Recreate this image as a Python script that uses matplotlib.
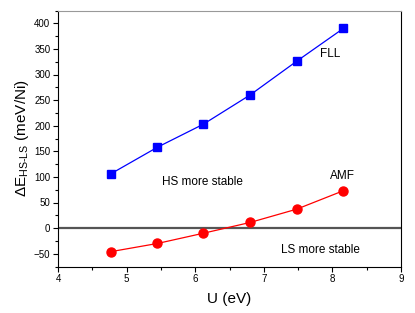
import matplotlib
matplotlib.use("Agg")
import matplotlib.pyplot as plt
from matplotlib.ticker import MultipleLocator

# ─── Data ─────────────────────────────────────────────────────────────────────
U_EV    = [4.77, 5.45, 6.12, 6.80, 7.48, 8.16]
FLL     = [106, 158, 203, 260, 326, 390]
AMF     = [-46, -30, -10, 11, 37, 73]

plt.rcParams["font.family"] = ["Liberation Sans", "DejaVu Sans"]
plt.rcParams["mathtext.fontset"] = "custom"
plt.rcParams["mathtext.rm"] = "Liberation Sans"

fig = plt.figure(figsize=(4.15, 3.13), dpi=100)
ax = fig.add_axes([58 / 415, 1 - 266.5 / 313, (401 - 58) / 415, (266.5 - 10.5) / 313])

ax.axhline(0, color="#555555", linewidth=1.6, zorder=1)
ax.plot(U_EV, FLL, color="blue", marker="s", markersize=5.5, linewidth=0.9, zorder=3)
ax.plot(U_EV, AMF, color="red", marker="o", markersize=6.5, linewidth=0.9, zorder=3)

ax.set_xlim(4, 9)
ax.set_ylim(-75, 425)
ax.xaxis.set_major_locator(MultipleLocator(1))
ax.xaxis.set_minor_locator(MultipleLocator(0.5))
ax.yaxis.set_major_locator(MultipleLocator(50))
ax.yaxis.set_minor_locator(MultipleLocator(25))
ax.tick_params(which="major", direction="out", length=3.5, width=0.8, labelsize=7, pad=2)
ax.tick_params(which="minor", direction="out", length=2, width=0.8)
ax.spines["top"].set_color("#999999")

ax.set_xlabel("U (eV)", fontsize=11, labelpad=6)
ax.set_ylabel(r"$\Delta$E$_{\mathrm{HS\text{-}LS}}$ (meV/Ni)", fontsize=11, labelpad=2)

ax.text(7.96, 341, "FLL", fontsize=8.5, ha="center", va="center")
ax.text(8.14, 101, "AMF", fontsize=8.5, ha="center", va="center")
ax.text(6.1, 91, "HS more stable", fontsize=8.5, ha="center", va="center")
ax.text(7.82, -42, "LS more stable", fontsize=8.5, ha="center", va="center")

fig.savefig("out.png", dpi=100)
